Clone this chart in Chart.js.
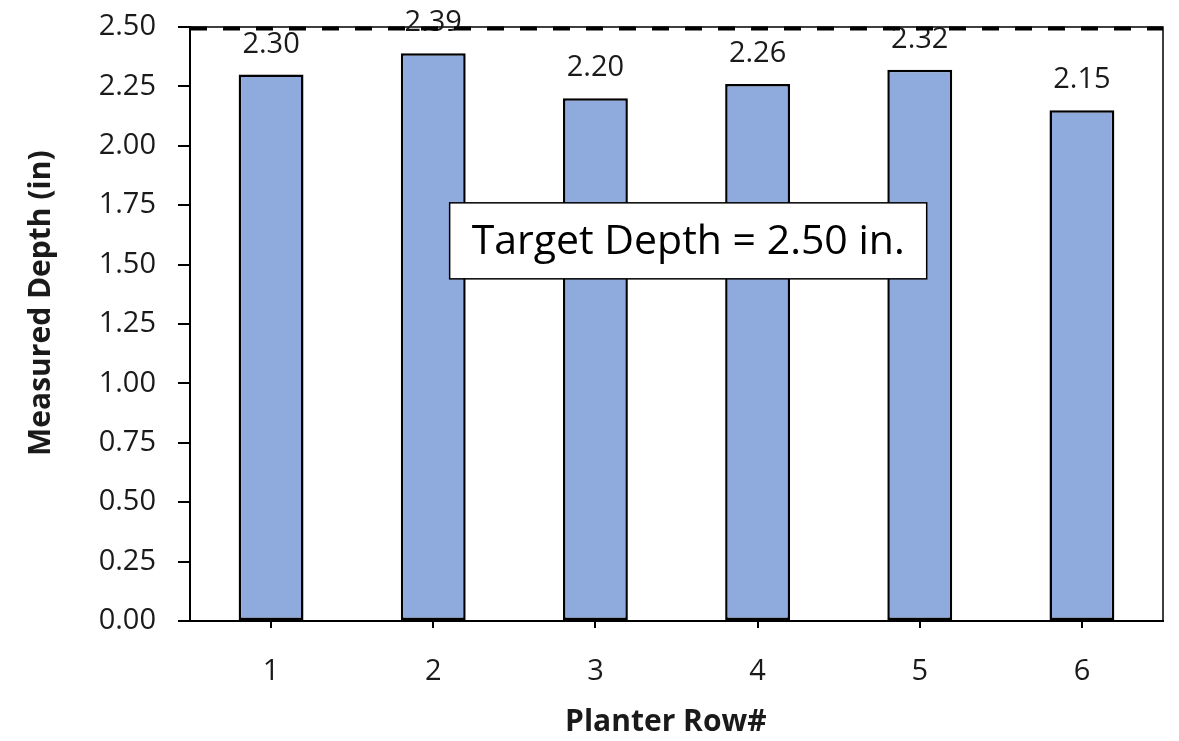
<!DOCTYPE html>
<html>
<head>
<meta charset="utf-8">
<title>Measured Depth by Planter Row</title>
<script src="https://cdn.jsdelivr.net/npm/chart.js@4.4.0/dist/chart.umd.min.js"></script>
<style>
  html, body { margin: 0; padding: 0; background: #ffffff; }
  canvas { display: block; }
</style>
</head>
<body>
<canvas id="depthChart" width="1179" height="741"></canvas>
<script>
// data
var rows = ["1", "2", "3", "4", "5", "6"];
var depths = [2.30, 2.39, 2.20, 2.26, 2.32, 2.15];
var yTicks = [0, 0.25, 0.5, 0.75, 1.0, 1.25, 1.5, 1.75, 2.0, 2.25, 2.5];
var targetDepth = 2.50;
var targetText = "Target Depth = 2.50 in.";
var xTitle = "Planter Row#";
var yTitle = "Measured Depth (in)";

var fontFamily = "'Open Sans', 'DejaVu Sans', sans-serif";

// draws values above bars, the dashed target line, the plot frame, text box and axis titles
var extrasPlugin = {
  id: "extras",
  afterDatasetsDraw: function (chart) {
    var ctx = chart.ctx;
    var area = chart.chartArea;
    var yScale = chart.scales.y;
    var xScale = chart.scales.x;

    ctx.save();

    // top + right frame of the plot area
    ctx.strokeStyle = "#000";
    ctx.lineWidth = 1.5;
    ctx.beginPath();
    ctx.moveTo(area.left, area.top);
    ctx.lineTo(area.right, area.top);
    ctx.lineTo(area.right, area.bottom);
    ctx.stroke();

    // value labels
    var meta = chart.getDatasetMeta(0);
    ctx.fillStyle = "#1a1a1a";
    ctx.font = "29px " + fontFamily;
    ctx.textAlign = "center";
    ctx.textBaseline = "alphabetic";
    meta.data.forEach(function (bar, i) {
      ctx.fillText(depths[i].toFixed(2), bar.x, bar.y - 22);
    });

    // dashed target line
    var ty = yScale.getPixelForValue(targetDepth) + 1.5;
    ctx.strokeStyle = "#000";
    ctx.lineWidth = 4;
    ctx.setLineDash([17, 16]);
    ctx.beginPath();
    ctx.moveTo(area.left, ty);
    ctx.lineTo(area.right, ty);
    ctx.stroke();
    ctx.setLineDash([]);

    // text box
    ctx.font = "41px " + fontFamily;
    var tw = ctx.measureText(targetText).width;
    var cx = area.left + (area.right - area.left) * 0.512;
    var cy = yScale.getPixelForValue(1.60);
    var bw = tw + 44;
    var bh = 76;
    ctx.fillStyle = "#ffffff";
    ctx.fillRect(cx - bw / 2, cy - bh / 2, bw, bh);
    ctx.strokeStyle = "#000";
    ctx.lineWidth = 1.5;
    ctx.strokeRect(cx - bw / 2, cy - bh / 2, bw, bh);
    ctx.fillStyle = "#000";
    ctx.textBaseline = "middle";
    ctx.fillText(targetText, cx, cy + 1);

    // axis titles
    ctx.fillStyle = "#1a1a1a";
    ctx.font = "bold 30px " + fontFamily;
    ctx.textAlign = "center";
    ctx.textBaseline = "middle";
    ctx.fillText(xTitle, xScale.left + (xScale.right - xScale.left) * 0.489, chart.height - 19);

    ctx.translate(41, area.top + (area.bottom - area.top) * 0.465);
    ctx.rotate(-Math.PI / 2);
    ctx.fillText(yTitle, 0, 0);

    ctx.restore();
  }
};

var ctx = document.getElementById("depthChart").getContext("2d");

var chart = new Chart(ctx, {
  type: "bar",
  data: {
    labels: rows,
    datasets: [{
      label: "Measured Depth",
      data: depths,
      backgroundColor: "#8faadc",
      borderColor: "#000000",
      borderWidth: 2.5,
      borderSkipped: false,
      categoryPercentage: 1.0,
      barPercentage: 0.4
    }]
  },
  options: {
    responsive: false,
    animation: false,
    layout: {
      padding: { left: 0, right: 16, top: 27, bottom: 0 }
    },
    plugins: {
      legend: { display: false },
      tooltip: { enabled: false }
    },
    scales: {
      x: {
        grid: {
          offset: false,
          drawOnChartArea: false,
          drawTicks: true,
          tickLength: 7,
          color: "#000",
          lineWidth: 2
        },
        border: { display: true, color: "#000", width: 2 },
        ticks: {
          color: "#1a1a1a",
          font: { family: fontFamily, size: 29 },
          padding: 26
        },
        afterFit: function (scale) {
          scale.height = 120;
          scale.paddingLeft = 0;
          scale.paddingRight = 0;
        }
      },
      y: {
        min: 0,
        max: 2.5,
        afterBuildTicks: function (scale) {
          scale.ticks = yTicks.map(function (v) { return { value: v }; });
        },
        grid: {
          drawOnChartArea: false,
          drawTicks: true,
          tickLength: 12,
          color: "#000",
          lineWidth: 2
        },
        border: { display: true, color: "#000", width: 2 },
        ticks: {
          color: "#1a1a1a",
          font: { family: fontFamily, size: 29 },
          padding: 22,
          callback: function (v) { return Number(v).toFixed(2); }
        },
        afterFit: function (scale) {
          scale.width = 190;
          scale.paddingTop = 0;
          scale.paddingBottom = 0;
        }
      }
    }
  },
  plugins: [extrasPlugin]
});
</script>
</body>
</html>
